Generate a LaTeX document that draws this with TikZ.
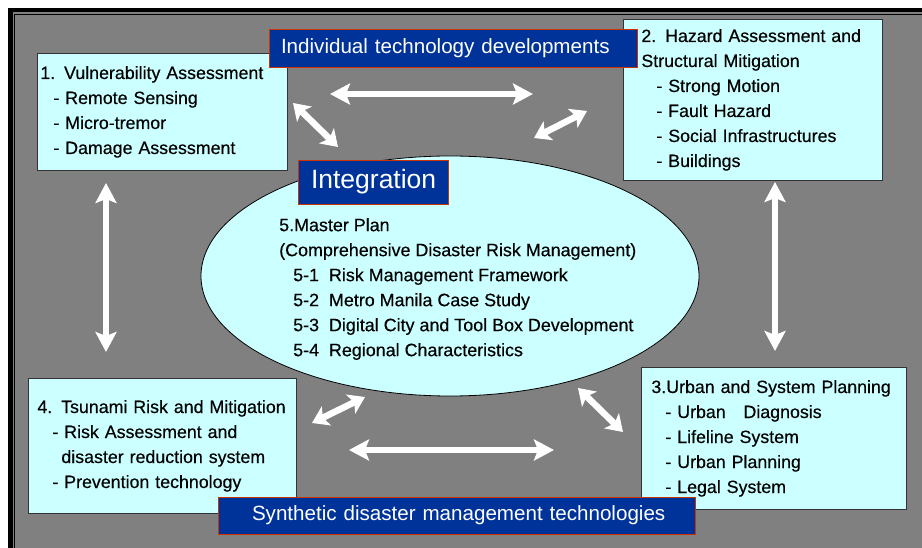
\documentclass[tikz,border=0pt]{standalone}
\usepackage{fontspec}
\setmainfont{Liberation Sans}
\newfontfamily\panelfont{Liberation Sans}[FakeBold=0.35]
\usetikzlibrary{shapes.geometric,arrows.meta}
\definecolor{panelfill}{HTML}{CCFFFF}
\definecolor{tagblue}{HTML}{003399}
\definecolor{tagedge}{HTML}{CC3300}
\definecolor{backgray}{HTML}{808080}

\begin{document}
\begin{tikzpicture}[x=1pt,y=-1pt]

      \tikzset{panel/.style={draw=black!80, fill=panelfill, line width=0.8pt, anchor=north west, align=left, inner ysep=0pt, font=\panelfont\fontsize{17.8}{25}\selectfont},
               tag/.style={draw=tagedge, fill=tagblue, text=white, line width=0.8pt, inner ysep=0pt, align=left, font=\fontsize{20.6}{22}\selectfont},
               twoway/.style={white, line width=6.5pt, {Stealth[length=#1,width=21pt,inset=4pt]}-{Stealth[length=#1,width=21pt,inset=4pt]}},
               twoway/.default=20pt}
% Frame
      	\useasboundingbox (0,0) rectangle (922,548);
      	\fill[black] (8,8) rectangle (940,560);
      	\fill[backgray] (12.5,12.5) rectangle (940,560);
      	\draw[black, line width=0.8pt] (14.5,14.5) rectangle (940,560);
% Panels
      	\node[panel, text width=244pt, inner xsep=3pt, minimum height=117pt] (b1) at (37,53)
      	  {1. Vulnerability Assessment\\ \hspace*{13pt}- Remote Sensing\\ \hspace*{13pt}- Micro-tremor\\ \hspace*{13pt}- Damage Assessment};
      	\node[panel, text width=223pt, inner xsep=18pt, minimum height=161pt] (b2) at (623,19)
      	  {2. Hazard Assessment and\\ Structural Mitigation\\ \hspace*{15pt}- Strong Motion\\ \hspace*{15pt}- Fault Hazard\\ \hspace*{15pt}- Social Infrastructures\\ \hspace*{15pt}- Buildings};
      	\node[panel, text width=245pt, inner xsep=10pt, minimum height=142pt] (b3) at (641,367)
      	  {3.Urban and System Planning\\ \hspace*{14pt}- Urban \ \ Diagnosis\\ \hspace*{14pt}- Lifeline System\\ \hspace*{14pt}- Urban Planning\\ \hspace*{14pt}- Legal System};
      	\node[panel, text width=250pt, inner xsep=9pt, minimum height=135pt] (b4) at (28,378)
      	  {4. Tsunami Risk and Mitigation\\ \hspace*{15pt}- Risk Assessment and\\ \hspace*{24pt}disaster reduction system\\ \hspace*{15pt}- Prevention technology};
% Master plan
      	\node[ellipse, draw=black, fill=panelfill, line width=0.8pt, minimum width=498pt, minimum height=240pt, inner sep=0pt] (plan) at (450,276) {};
      	\node[anchor=north west, align=left, inner sep=0pt, font=\panelfont\fontsize{17.9}{25}\selectfont] (plantext) at (279,218)
      	  {5.Master Plan\\ (Comprehensive Disaster Risk Management)\\ \hspace*{14pt}5-1\ \ Risk Management Framework\\ \hspace*{14pt}5-2\ \ Metro Manila Case Study\\ \hspace*{14pt}5-3\ \ Digital City and Tool Box Development\\ \hspace*{14pt}5-4\ \ Regional Characteristics};
% Tags
      	\node[tag, text width=344pt, inner xsep=12pt, minimum height=38pt] (t1) at (453,48) {\mbox{Individual technology developments}};
      	\node[tag, text width=124pt, inner xsep=13pt, minimum height=44pt, font=\fontsize{26.5}{28}\selectfont] (t2) at (373,182) {\mbox{Integration}};
      	\node[tag, text width=409pt, inner xsep=34pt, minimum height=37pt] (t3) at (456.5,515.5) {\mbox{Synthetic disaster management technologies}};
% Arrow ends
      	\coordinate (a1) at (330,94);   \coordinate (a2) at (533,94);
      	\coordinate (a3) at (293,103);  \coordinate (a4) at (338,147);
      	\coordinate (a5) at (534,138);  \coordinate (a6) at (587,111);
      	\coordinate (a7) at (106,183);  \coordinate (a8) at (106,352);
      	\coordinate (a9) at (775,182);  \coordinate (a10) at (775,351);
      	\coordinate (a11) at (312,423); \coordinate (a12) at (365,397);
      	\coordinate (a13) at (349,450); \coordinate (a14) at (554,450);
      	\coordinate (a15) at (578,388); \coordinate (a16) at (623,432);
% Arrows
		\draw[twoway] (a1) -- (a2);
		\draw[twoway=16pt] (a3) -- (a4);
		\draw[twoway=16pt] (a5) -- (a6);
		\draw[twoway] (a7) -- (a8);
		\draw[twoway] (a9) -- (a10);
		\draw[twoway=16pt] (a11) -- (a12);
		\draw[twoway] (a13) -- (a14);
		\draw[twoway=16pt] (a15) -- (a16);

	\end{tikzpicture}
\end{document}
